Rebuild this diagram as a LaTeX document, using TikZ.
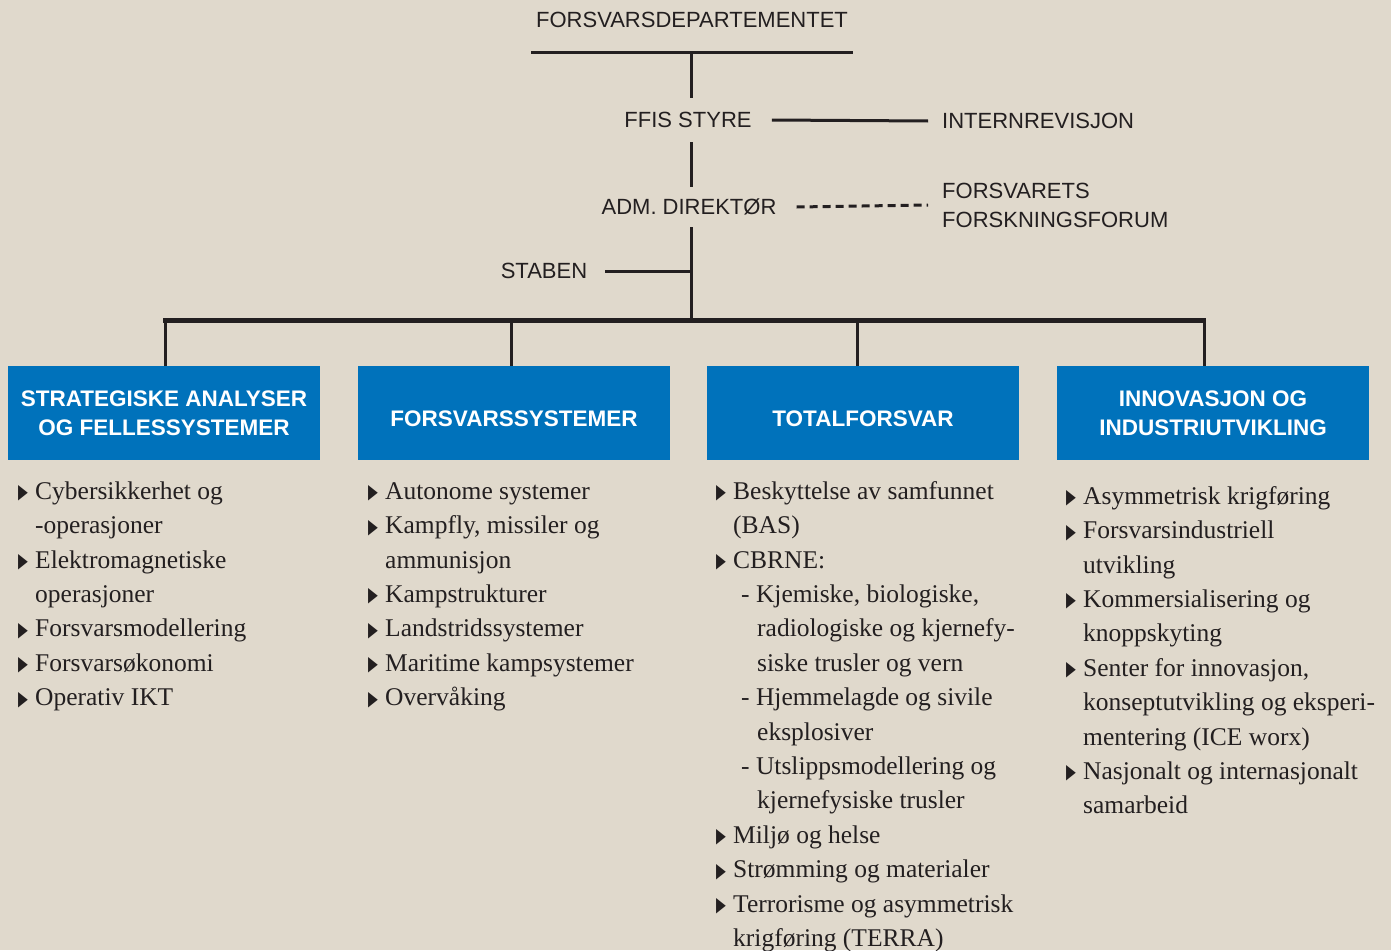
\documentclass[tikz,border=0pt]{standalone}
\usepackage{fontspec}
\setmainfont{Liberation Serif}
\setsansfont{Liberation Sans}
\newfontfamily\symfont{DejaVu Sans}

\definecolor{bakgrunn}{HTML}{E0D9CC}
\definecolor{ffiblaa}{HTML}{0072BB}
\definecolor{strek}{HTML}{231F20}

\newcommand{\bul}{\makebox[17pt][l]{\raisebox{0.5pt}{\scalebox{0.58}[0.92]{\symfont\fontsize{22}{22}\selectfont ▶}}}}
\newcommand{\ind}{\hspace*{17pt}}

\tikzset{
    org/.style={font=\sffamily\fontsize{22}{29}\selectfont, text=strek, inner sep=0pt},
    enhet/.style={fill=ffiblaa, text=white, font=\sffamily\bfseries\fontsize{22.5}{29}\selectfont,
        align=center, minimum width=312pt, minimum height=94pt, inner sep=0pt},
    liste/.style={font=\rmfamily\fontsize{25.5}{34.4}\selectfont, text=strek, align=left,
        anchor=north west, inner sep=0pt},
    linje/.style={draw=strek, line width=3pt},
}

\begin{document}
\begin{tikzpicture}[x=1pt,y=-1pt]
    \fill[bakgrunn] (0,0) rectangle (1391,950);
    \useasboundingbox (0,0) rectangle (1391,950);

    % ledelse
    \node[org] (dep) at (692,20) {FORSVARSDEPARTEMENTET};
    \coordinate (depV) at (531,53);
    \coordinate (depH) at (853,53);
    \coordinate (depM) at (691,53);
    \node[org,inner xsep=20pt,minimum height=44pt] (ffis) at (688,120) {FFIS STYRE};
    \node[org,anchor=west,inner xsep=14pt] (intern) at (928,121) {INTERNREVISJON};
    \node[org,inner xsep=20pt,minimum height=40pt] (adm) at (689,207) {ADM. DIREKTØR};
    \node[org,anchor=west,inner xsep=14pt,align=left] (forum) at (928,205) {FORSVARETS\\FORSKNINGSFORUM};
    \node[org,inner xsep=18pt] (staben) at (544,271) {STABEN};
    \coordinate (hub) at (691,320);

    \draw[linje] (depV) -- (depH);
    \draw[linje] (depM) -- (depM |- ffis.north);
    \draw[linje] (ffis.east) -- (intern.west);
    \draw[linje] (ffis.south -| depM) -- (adm.north -| depM);
    \draw[linje,dash pattern=on 8pt off 5pt] (adm.east) -- (forum.west);
    \draw[linje] (adm.south -| depM) -- (hub);
    \draw[linje] (staben.east) -- (staben.east -| hub);

    % avdelinger
    \coordinate (busV) at (163,320);
    \coordinate (busH) at (1206,320);
    \draw[strek,line width=5pt] (busV) -- (busH);

    \node[enhet] (e1) at (164,413) {STRATEGISKE ANALYSER\\OG FELLESSYSTEMER};
    \node[enhet] (e2) at (514,413) {\raisebox{-13pt}[0pt][0pt]{FORSVARSSYSTEMER}};
    \node[enhet] (e3) at (863,413) {\raisebox{-13pt}[0pt][0pt]{TOTALFORSVAR}};
    \node[enhet] (e4) at (1213,413) {INNOVASJON OG\\INDUSTRIUTVIKLING};

    \coordinate (d1) at (165,320);
    \coordinate (d2) at (511,320);
    \coordinate (d3) at (857,320);
    \coordinate (d4) at (1204,320);
    \foreach \i in {1,...,4}
        \draw[linje] (d\i) -- (d\i |- e\i.north);

    % fagomraader
    \node[liste] (l1) at (18,475) {\strut\bul Cybersikkerhet og\\
        \ind -operasjoner\\
        \bul Elektromagnetiske\\
        \ind operasjoner\\
        \bul Forsvarsmodellering\\
        \bul Forsvarsøkonomi\\
        \bul Operativ IKT};
    \node[liste] (l2) at (368,475) {\strut\bul Autonome systemer\\
        \bul Kampfly, missiler og\\
        \ind ammunisjon\\
        \bul Kampstrukturer\\
        \bul Landstridssystemer\\
        \bul Maritime kampsystemer\\
        \bul Overvåking};
    \node[liste] (l3) at (716,475) {\strut\bul Beskyttelse av samfunnet\\
        \ind (BAS)\\
        \bul CBRNE:\\
        \ind\hspace*{8pt}- Kjemiske, biologiske,\\
        \ind\hspace*{24pt}radiologiske og kjernefy-\\
        \ind\hspace*{24pt}siske trusler og vern\\
        \ind\hspace*{8pt}- Hjemmelagde og sivile\\
        \ind\hspace*{24pt}eksplosiver\\
        \ind\hspace*{8pt}- Utslippsmodellering og\\
        \ind\hspace*{24pt}kjernefysiske trusler\\
        \bul Miljø og helse\\
        \bul Strømming og materialer\\
        \bul Terrorisme og asymmetrisk\\
        \ind krigføring (TERRA)};
    \node[liste] (l4) at (1066,480) {\strut\bul Asymmetrisk krigføring\\
        \bul Forsvarsindustriell\\
        \ind utvikling\\
        \bul Kommersialisering og\\
        \ind knoppskyting\\
        \bul Senter for innovasjon,\\
        \ind konseptutvikling og eksperi-\\
        \ind mentering (ICE worx)\\
        \bul Nasjonalt og internasjonalt\\
        \ind samarbeid};
\end{tikzpicture}
\end{document}
